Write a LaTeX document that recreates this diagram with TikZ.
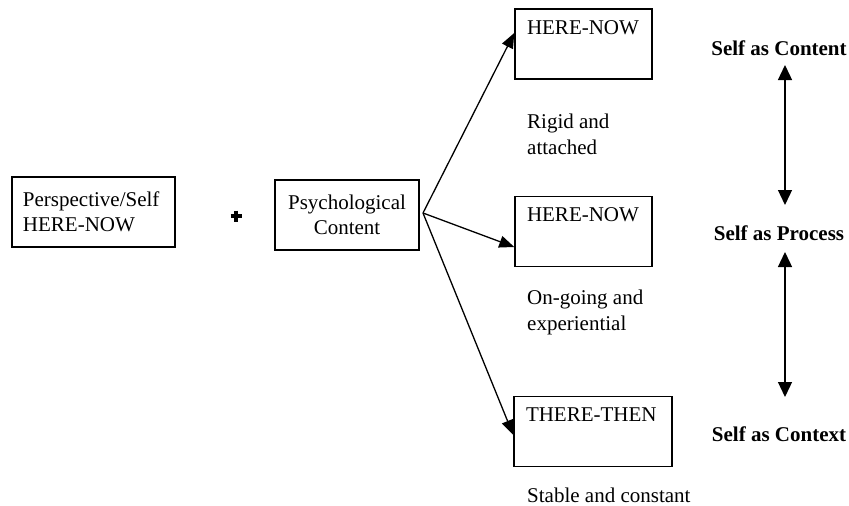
\documentclass[tikz,border=0pt]{standalone}
\usepackage{fontspec}
\setmainfont{Liberation Serif}
\usetikzlibrary{arrows.meta}
\begin{document}
\begin{tikzpicture}[x=1pt,y=-1pt,
  every node/.style={font=\fontsize{21}{25.5}\selectfont},
  boxl/.style={draw,line width=1.5pt,minimum height=70pt,inner ysep=0pt,inner xsep=12pt,align=left},
  boxc/.style={draw,line width=1.5pt,minimum height=70pt,inner ysep=0pt,inner xsep=12pt,align=center},
  txt/.style={inner sep=0pt,align=left,anchor=west},
  bold/.style={inner sep=0pt,font=\fontsize{21}{25.5}\selectfont\bfseries},
  conn/.style={line width=1.3pt,-{Triangle[length=15pt,width=12pt]}},
  varrow/.style={line width=1.3pt,{Triangle[length=15pt,width=14pt]}-{Triangle[length=15pt,width=14pt]}}
]
\useasboundingbox (0,0) rectangle (849,506);

% left boxes
\node[boxl,text width=141pt,inner xsep=11pt] (b1) at (93.5,212) {Perspective/Self\\HERE-NOW};
\draw[line width=3.5pt] (230.5,216) -- (241.5,216) (236,210.5) -- (236,221.5);
\node[boxc,text width=120pt] (b2) at (347,215) {Psychological\\Content};

% right boxes
\node[boxl,text width=113pt] (t1) at (583.5,44) {HERE-NOW\\\strut};
\node[boxl,text width=113pt] (t2) at (583.5,231.5) {HERE-NOW\\\strut};
\node[boxl,text width=134pt] (t3) at (593,431.5) {THERE-THEN\\\strut};

% descriptions
\node[txt] (d1) at (527,134.5) {Rigid and\\attached};
\node[txt] (d2) at (527,312.5) {On-going and\\experiential};
\node[txt] (d3) at (527,495) {Stable and constant};

% connectors
\coordinate (o) at (423,213);
\draw[conn] (o) -- ([yshift=11pt]t1.west);
\draw[conn] (o) -- ([yshift=-15.5pt]t2.west);
\draw[conn] (o) -- ([yshift=-3.5pt]t3.west);

% right column
\node[bold] (s1) at (779,48) {Self as Content};
\node[bold] (s2) at (779,233) {Self as Process};
\node[bold] (s3) at (779,434) {Self as Context};
\coordinate (a1t) at (785,65);
\coordinate (a1b) at (785,205);
\coordinate (a2t) at (785,252);
\coordinate (a2b) at (785,397);
\draw[varrow] (a1t) -- (a1b);
\draw[varrow] (a2t) -- (a2b);
\end{tikzpicture}
\end{document}
